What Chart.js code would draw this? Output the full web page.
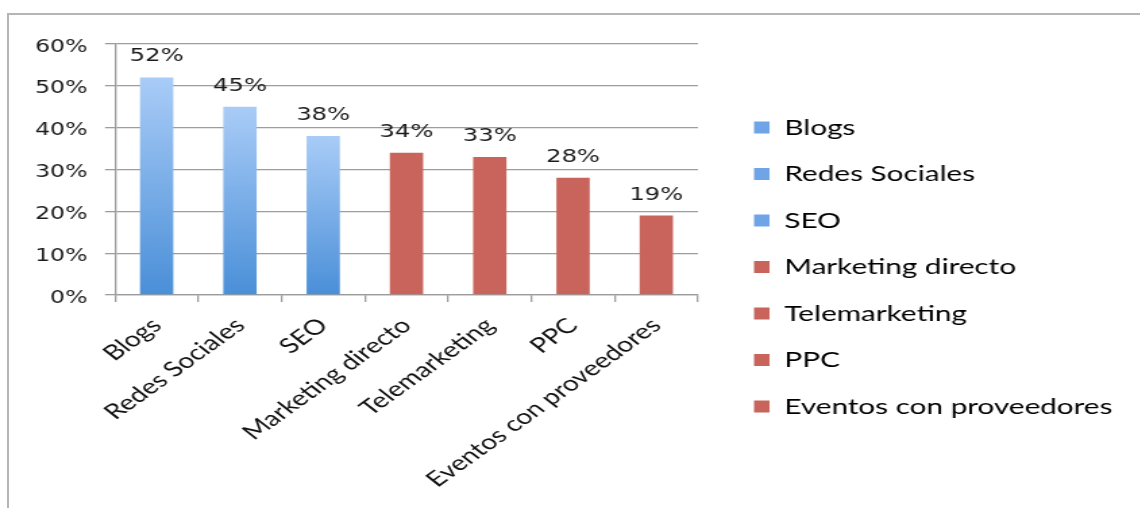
<!DOCTYPE html>
<html>
<head>
<meta charset="utf-8">
<script src="https://cdn.jsdelivr.net/npm/chart.js@4.4.1/dist/chart.umd.min.js"></script>
<style>
  html, body { margin: 0; padding: 0; background: #fff; overflow: hidden; }
  #frame { position: absolute; left: 7px; top: 13px; width: 1200px; height: 600px;
           border-left: 2px solid #b5b5b5; border-top: 2px solid #b5b5b5; }
  /* the original picture is stretched sideways, so is this one */
  #wrap { position: absolute; left: 0; top: 0; width: 845px; height: 508px;
          transform: scaleX(1.35); transform-origin: 0 0; }
</style>
</head>
<body>
<div id="frame"></div>
<div id="wrap"><canvas id="canvas" width="845" height="508" style="width:845px;height:508px"></canvas></div>
<script>
var categories = ['Blogs', 'Redes Sociales', 'SEO', 'Marketing directo', 'Telemarketing', 'PPC', 'Eventos con proveedores'];
var values = [52, 45, 38, 34, 33, 28, 19];
var groups = ['blue', 'blue', 'blue', 'red', 'red', 'red', 'red'];
var yMax = 60;
var yStep = 10;

var red = '#c8645b';
var blueTop = '#a9ccf7';
var blueBottom = '#4a8fd8';
var gridGray = '#9d9d9d';
var plotRight = 517;   // where the plot should end, in canvas px
var padRight = 11;

function barColor(c) {
    var i = c.dataIndex;
    if (groups[i] !== 'blue') return red;
    var chart = c.chart;
    if (!chart.chartArea || !chart.scales.y) return '#78aae8';
    var y = chart.scales.y;
    var g = chart.ctx.createLinearGradient(0, y.getPixelForValue(values[i]), 0, y.getPixelForValue(0));
    g.addColorStop(0, blueTop);
    g.addColorStop(1, blueBottom);
    return g;
}

// value labels over the bars
var barLabels = {
    id: 'barLabels',
    afterDatasetsDraw: function(chart) {
        var ctx = chart.ctx;
        var meta = chart.getDatasetMeta(0);
        ctx.save();
        ctx.font = '18px "DejaVu Sans"';
        ctx.fillStyle = '#1c1c1c';
        ctx.textAlign = 'center';
        ctx.textBaseline = 'alphabetic';
        meta.data.forEach(function(bar, i) {
            ctx.fillText(values[i] + '%', bar.x, bar.y - 16);
        });
        ctx.restore();
    }
};

var ctx = document.getElementById('canvas').getContext('2d');
window.myBar = new Chart(ctx, {
    type: 'bar',
    data: {
        labels: categories,
        datasets: [{
            data: values,
            backgroundColor: barColor,
            borderWidth: 0,
            barPercentage: 0.4,
            categoryPercentage: 1
        }]
    },
    options: {
        responsive: false,
        animation: false,
        devicePixelRatio: 1,
        layout: { padding: { top: 44, right: padRight, bottom: 18, left: 0 } },
        plugins: {
            tooltip: { enabled: false },
            legend: {
                position: 'right',
                maxWidth: 400,
                labels: {
                    boxWidth: 11.5,
                    boxHeight: 12,
                    padding: 24.5,
                    color: '#111',
                    font: { family: 'Lato', size: 22 },
                    generateLabels: function() {
                        return categories.map(function(c, i) {
                            return {
                                text: c,
                                fillStyle: groups[i] === 'blue' ? '#6fa5e6' : red,
                                strokeStyle: 'rgba(0,0,0,0)',
                                lineWidth: 0,
                                hidden: false,
                                index: i,
                                datasetIndex: 0
                            };
                        });
                    }
                }
            }
        },
        scales: {
            x: {
                grid: { offset: true, drawOnChartArea: false, color: gridGray, lineWidth: 1.3, tickLength: 7 },
                border: { color: gridGray, width: 1.3 },
                ticks: {
                    autoSkip: false,
                    minRotation: 44,
                    maxRotation: 44,
                    padding: 11,
                    color: '#111',
                    font: { family: 'Lato', size: 21 }
                },
                afterFit: function(s) { s.height = 195; }
            },
            y: {
                min: 0,
                max: yMax,
                ticks: {
                    stepSize: yStep,
                    padding: 13,
                    labelOffset: 3,
                    color: '#1c1c1c',
                    font: { family: 'DejaVu Sans', size: 17.5 },
                    callback: function(v) { return v + '%'; }
                },
                grid: { color: gridGray, lineWidth: 1.3, tickLength: 7.4 },
                border: { color: gridGray, width: 1.3 },
                afterFit: function(s) { s.width = 85.2; }
            },
            // empty space between plot and legend
            gap: {
                type: 'linear',
                position: 'right',
                display: true,
                grid: { display: false },
                ticks: { display: false },
                border: { display: false },
                afterFit: function(s) {
                    var lw = s.chart.legend ? s.chart.legend.width : 290;
                    s.width = Math.max(0, s.chart.width - padRight - plotRight - lw);
                }
            }
        }
    },
    plugins: [barLabels]
});
</script>
</body>
</html>
